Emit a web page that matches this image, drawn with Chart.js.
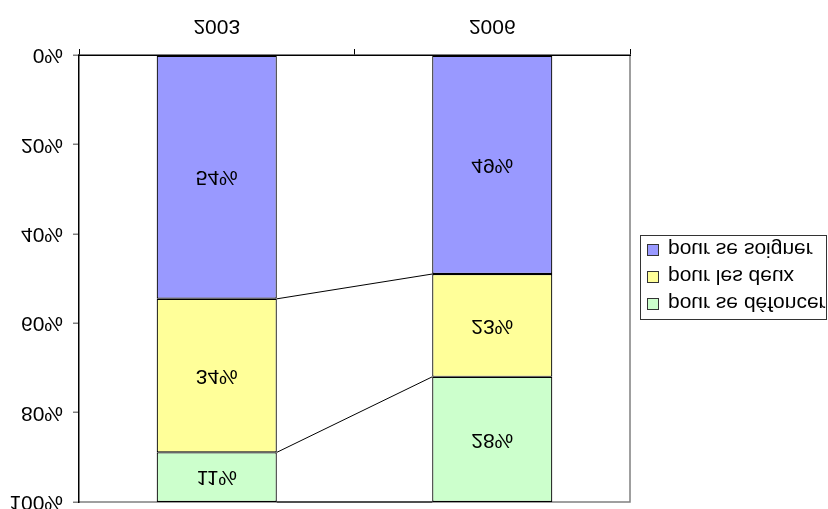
<!DOCTYPE html>
<html>
<head>
<meta charset="utf-8">
<script src="https://cdn.jsdelivr.net/npm/chart.js@4"></script>
<style>
  html, body { margin: 0; padding: 0; background: #fff; }
  #wrap { position: relative; width: 828px; height: 509px; transform: scaleY(-1); transform-origin: 50% 50%; overflow: hidden; background: #fff; }
  #c { position: absolute; left: 0; top: 0; }
  #legend { position: absolute; left: 640px; top: 189px; width: 187px; height: 85px; border: 1px solid #333; box-sizing: border-box; background: #fff; font-family: "Liberation Sans", Arial, sans-serif; font-size: 21px; color: #000; }
  .item { position: absolute; left: 6px; height: 24px; line-height: 24px; white-space: nowrap; }
  .sw { display: inline-block; width: 10px; height: 10px; border: 1px solid #333; vertical-align: middle; margin-right: 9px; position: relative; top: -1px; }
</style>
</head>
<body>
<div id="wrap">
  <canvas id="c" width="828" height="509"></canvas>
  <div id="legend"></div>
</div>
<script>
const categories = ['2003', '2006'];
const soigner = [54, 49];
const deux = [34, 23];
const defoncer = [11, 28];
const seriesNames = ['pour se soigner', 'pour les deux', 'pour se défoncer'];
const seriesColors = ['#9999FF', '#FFFF99', '#CCFFCC'];
const yTicks = [0, 20, 40, 60, 80, 100];

const seriesValues = [soigner, deux, defoncer];
const totals = categories.map((_, i) => seriesValues.reduce((s, a) => s + a[i], 0));
const share = arr => arr.map((v, i) => v / totals[i] * 100);

const FONT = '"Liberation Sans", Arial, sans-serif';

const bgBorder = {
  id: 'bgBorder',
  beforeDraw(chart) {
    const ctx = chart.ctx, a = chart.chartArea;
    ctx.save();
    ctx.fillStyle = '#fff';
    ctx.fillRect(0, 0, chart.width, chart.height);
    ctx.strokeStyle = '#808080';
    ctx.lineWidth = 1.5;
    ctx.beginPath();
    ctx.moveTo(a.left, a.top);
    ctx.lineTo(a.right, a.top);
    ctx.lineTo(a.right, a.bottom);
    ctx.stroke();
    ctx.restore();
  }
};

const seriesLines = {
  id: 'seriesLines',
  afterDatasetsDraw(chart) {
    const ctx = chart.ctx;
    ctx.save();
    ctx.strokeStyle = '#000';
    ctx.lineWidth = 1;
    chart.data.datasets.forEach((ds, i) => {
      const els = chart.getDatasetMeta(i).data;
      for (let k = 0; k < els.length - 1; k++) {
        const e0 = els[k], e1 = els[k + 1];
        ctx.beginPath();
        ctx.moveTo(e0.x + e0.width / 2, e0.y);
        ctx.lineTo(e1.x - e1.width / 2, e1.y);
        ctx.stroke();
      }
    });
    // data labels
    ctx.fillStyle = '#000';
    ctx.font = '21px ' + FONT;
    ctx.textAlign = 'center';
    ctx.textBaseline = 'middle';
    chart.data.datasets.forEach((ds, i) => {
      chart.getDatasetMeta(i).data.forEach((el, k) => {
        ctx.fillText(seriesValues[i][k] + '%', el.x, (el.y + el.base) / 2);
      });
    });
    ctx.restore();
  }
};

const chart = new Chart(document.getElementById('c'), {
  type: 'bar',
  data: {
    labels: categories,
    datasets: seriesNames.map((n, i) => ({
      label: n,
      data: share(seriesValues[i]),
      backgroundColor: seriesColors[i],
      borderColor: '#000',
      borderWidth: 1.2,
      borderSkipped: false,
      categoryPercentage: 1,
      barPercentage: 0.436
    }))
  },
  options: {
    responsive: false,
    animation: false,
    devicePixelRatio: 1,
    layout: { padding: { left: 0, right: 198, top: 7, bottom: 0 }, autoPadding: false },
    plugins: { legend: { display: false }, tooltip: { enabled: false } },
    scales: {
      x: {
        stacked: true,
        offset: true,
        grid: { offset: true, drawOnChartArea: false, drawTicks: true, tickLength: 6, color: '#000', lineWidth: 1 },
        border: { display: true, color: '#000', width: 1.5 },
        ticks: { color: '#000', font: { family: FONT, size: 21 }, padding: 11, maxRotation: 0 },
        afterFit(s) { s.height = 55; s.paddingLeft = 0; s.paddingRight = 0; }
      },
      y: {
        stacked: true,
        min: 0,
        max: 100,
        grid: { drawOnChartArea: false, drawTicks: true, tickLength: 6, color: '#808080', lineWidth: 1.5 },
        border: { display: true, color: '#000', width: 1.5 },
        ticks: { color: '#000', font: { family: FONT, size: 21 }, padding: 10, callback: v => v + '%' },
        afterBuildTicks(s) { s.ticks = yTicks.map(v => ({ value: v })); },
        afterFit(s) { s.width = 79; s.paddingTop = 0; s.paddingBottom = 0; }
      }
    }
  },
  plugins: [bgBorder, seriesLines]
});

// legend (reverse order, as in the original stacked chart)
const leg = document.getElementById('legend');
const order = [2, 1, 0];
const tops = [3, 30, 57];
order.forEach((i, r) => {
  const d = document.createElement('div');
  d.className = 'item';
  d.style.top = tops[r] + 'px';
  d.innerHTML = '<span class="sw" style="background:' + seriesColors[i] + '"></span>' + seriesNames[i];
  leg.appendChild(d);
});
</script>
</body>
</html>
